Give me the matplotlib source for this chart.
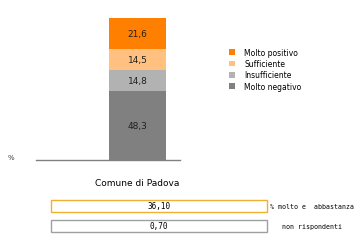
import matplotlib
matplotlib.use("Agg")
import matplotlib.pyplot as plt
from matplotlib.patches import Rectangle

categorie = ["Molto negativo", "Insufficiente", "Sufficiente", "Molto positivo"]
valori = [48.3, 14.8, 14.5, 21.6]
colori = ["#808080", "#b2b2b2", "#ffc080", "#ff8000"]
luogo = "Comune di Padova"
riassunto = ["36,10", "0,70"]
riassunto_lab = ["% molto e  abbastanza", "non rispondenti"]

fig = plt.figure(figsize=(3.61, 2.51), dpi=100)
ax = fig.add_axes([36 / 361, 90 / 251, 144 / 361, 142 / 251])
ax.set_xlim(0, 1)
ax.set_ylim(0, sum(valori))
ax.axis("off")

base = 0
for nome, v, c in zip(categorie, valori, colori):
    ax.bar(0.705, v, width=0.396, bottom=base, color=c, label=nome)
    ax.text(0.705, base + v / 2, f"{v:.1f}".replace(".", ","), ha="center",
            va="center", fontsize=6.5, color="#202020")
    base += v
ax.plot([0, 1], [0, 0], color="#808080", lw=1, clip_on=False)

# legenda
h, l = ax.get_legend_handles_labels()
fig.legend(h[::-1], l[::-1], loc="upper left", bbox_to_anchor=(222 / 361, 1 - 42 / 251),
           frameon=False, fontsize=5.5, handlelength=0.8, handleheight=0.8,
           handletextpad=1.2, labelspacing=0.3)

fig.text(8 / 361, 1 - 158 / 251, "%", fontsize=5, va="center", color="#404040")
fig.text(137 / 361, 1 - 184 / 251, luogo, fontsize=6.5, ha="center", va="center")

# riquadri in basso
for i, (val, lab, ec) in enumerate(zip(riassunto, riassunto_lab, ["#f0b030", "#a0a0a0"])):
    y0 = 1 - (213 + 20 * i) / 251
    fig.add_artist(Rectangle((51 / 361, y0), 216 / 361, 12 / 251,
                             transform=fig.transFigure, fill=False, ec=ec, lw=1))
    fig.text(159 / 361, y0 + 6 / 251, val, fontsize=5.5, ha="center", va="center",
             family="DejaVu Sans Mono")
    fig.text((270 if i == 0 else 282) / 361, y0 + 6 / 251, lab, fontsize=4.8,
             va="center", family="DejaVu Sans Mono")

fig.savefig("out.png", dpi=100)
